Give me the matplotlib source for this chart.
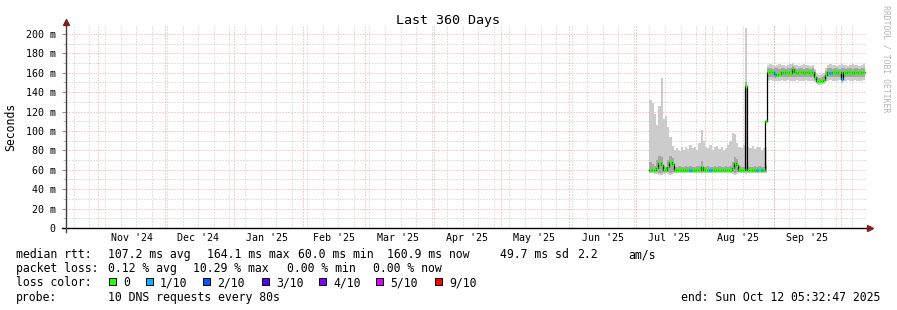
import numpy as np
import matplotlib
matplotlib.use('Agg')
import matplotlib.pyplot as plt
import matplotlib.dates as mdates
from matplotlib.patches import Rectangle

plt.rcParams['font.family'] = ['DejaVu Sans Mono']

# ---- data ----
start = np.datetime64('2024-10-17T05:32:47')
end = np.datetime64('2025-10-12T05:32:47')
days = np.arange('2025-07-07', '2025-10-12', dtype='datetime64[D]')

# median rtt per day, ms
median = [60, 60, 60, 62, 67, 65, 60, 60, 63, 68,
          66, 60, 60, 60, 60, 60, 60, 60, 60, 60,
          60, 60, 60, 63, 60, 60, 60, 60, 60, 60,
          60, 60, 60, 60, 60, 60, 60, 62, 67, 65,
          60, 60, 60, 146, 60, 60, 60, 60, 60, 60,
          60, 60, 110, 161, 161, 161, 159, 158, 159, 161,
          160, 161, 161, 160, 164, 161, 160, 161, 161, 160,
          161, 161, 160, 161, 156, 152, 151, 152, 153, 158,
          161, 160, 161, 161, 160, 161, 154, 161, 160, 161,
          161, 160, 161, 161, 160, 161, 161]
# smoke: slowest / fastest ping, ms
smoke_hi = [132, 129, 118, 106, 126, 155, 112, 115, 104, 94,
            85, 80, 82, 79, 84, 80, 83, 81, 86, 82,
            84, 80, 88, 101, 90, 84, 82, 86, 80, 83,
            85, 81, 84, 80, 82, 86, 90, 98, 97, 88,
            84, 82, 86, 206, 84, 82, 85, 81, 83, 84,
            80, 82, 84, 168, 169, 168, 167, 168, 169, 168,
            168, 167, 168, 169, 170, 168, 168, 167, 168, 169,
            168, 168, 167, 168, 164, 159, 158, 159, 160, 165,
            168, 169, 168, 168, 167, 168, 169, 168, 168, 167,
            168, 169, 168, 168, 167, 168, 169]
smoke_lo = [57, 57, 56, 56, 55, 55, 56, 57, 56, 55,
            56, 57, 57, 57, 57, 57, 57, 57, 57, 57,
            57, 57, 57, 56, 57, 57, 57, 57, 57, 57,
            57, 57, 57, 57, 57, 57, 57, 56, 55, 56,
            57, 57, 57, 56, 57, 57, 57, 57, 57, 57,
            57, 57, 57, 152, 153, 152, 151, 152, 152, 153,
            152, 152, 153, 152, 152, 152, 153, 152, 152, 152,
            153, 152, 152, 152, 150, 148, 147, 148, 148, 151,
            152, 153, 152, 152, 152, 153, 149, 152, 152, 153,
            152, 152, 153, 152, 152, 152, 153]
# inner (darker) smoke band, ms
inner_hi = [68, 66, 64, 70, 74, 73, 64, 63, 70, 74,
            72, 63, 63, 64, 63, 63, 64, 63, 64, 63,
            63, 64, 64, 69, 63, 63, 64, 63, 63, 64,
            63, 64, 63, 63, 64, 63, 64, 68, 73, 71,
            64, 63, 63, 150, 64, 63, 63, 64, 63, 64,
            63, 63, 64, 165, 165, 164, 165, 165, 164, 165,
            165, 164, 165, 165, 167, 165, 164, 165, 165, 164,
            165, 165, 164, 165, 161, 156, 155, 156, 157, 162,
            165, 165, 164, 165, 165, 164, 165, 165, 164, 165,
            165, 164, 165, 165, 164, 165, 165]
inner_lo = [58, 58, 58, 58, 57, 57, 58, 58, 58, 57,
            58, 58, 58, 58, 58, 58, 58, 58, 58, 58,
            58, 58, 58, 58, 58, 58, 58, 58, 58, 58,
            58, 58, 58, 58, 58, 58, 58, 58, 57, 58,
            58, 58, 58, 58, 58, 58, 58, 58, 58, 58,
            58, 58, 58, 156, 156, 156, 155, 156, 156, 156,
            156, 156, 156, 156, 156, 156, 156, 156, 156, 156,
            156, 156, 156, 156, 153, 150, 149, 150, 150, 154,
            156, 156, 156, 156, 156, 156, 152, 156, 156, 156,
            156, 156, 156, 156, 156, 156, 156]
# lost pings out of 10
loss = [0, 0, 0, 0, 0, 0, 0, 0, 0, 0,
        0, 0, 0, 0, 0, 0, 0, 0, 1, 0,
        0, 0, 0, 0, 0, 0, 0, 1, 0, 0,
        0, 0, 0, 0, 0, 0, 0, 0, 0, 0,
        0, 0, 0, 0, 0, 0, 0, 0, 1, 0,
        1, 0, 0, 0, 0, 0, 1, 0, 0, 0,
        0, 0, 0, 0, 0, 0, 0, 0, 0, 0,
        0, 0, 0, 0, 0, 0, 0, 0, 0, 0,
        0, 1, 0, 0, 0, 0, 1, 0, 0, 0,
        0, 0, 0, 0, 0, 0, 0]

loss_labels = ['0', '1/10', '2/10', '3/10', '4/10', '5/10', '9/10']
loss_colors = ['#26ff00', '#00b8ff', '#0059ff', '#5e00ff', '#7e00ff', '#dd00ff', '#ff0000']

month_labels = ["Nov '24", "Dec '24", "Jan '25", "Feb '25", "Mar '25", "Apr '25",
                "May '25", "Jun '25", "Jul '25", "Aug '25", "Sep '25"]
month_mids = np.array(['2024-11-16', '2024-12-16', '2025-01-16', '2025-02-15', '2025-03-16',
                       '2025-04-16', '2025-05-16', '2025-06-16', '2025-07-16', '2025-08-16',
                       '2025-09-16'], dtype='datetime64[D]')

stats_rtt = [(16, 'median rtt:'), (108, '107.2 ms avg'), (207, '164.1 ms max'),
             (298, '60.0 ms min'), (387, '160.9 ms now'), (500, '49.7 ms sd'),
             (577, '2.2'), (628, 'am/s')]
stats_loss = [(16, 'packet loss:'), (108, '0.12 % avg'), (193, '10.29 % max'),
              (287, '0.00 % min'), (373, '0.00 % now')]

# ---- figure ----
W, H = 897, 310
fig = plt.figure(figsize=(W / 100, H / 100), dpi=100)
fig.patch.set_facecolor('white')

def fx(x):
    return x / W

def fy(y):
    return 1 - y / H

ax = fig.add_axes([fx(65.5), fy(228), 800 / W, 202 / H])
ax.set_xlim(start, end)
ax.set_ylim(0, 208.2)

# grid
grid_red = '#eba0a0'
grid_gray = '#c4c4c4'
dots = (0, (1, 2))
for d in np.arange('2024-10-21', '2025-10-12', 7, dtype='datetime64[D]'):
    ax.axvline(d, color=grid_gray, lw=0.72, ls=dots, zorder=0)
for m in np.arange('2024-11', '2025-11', dtype='datetime64[M]'):
    ax.axvline(m.astype('datetime64[D]'), color=grid_red, lw=0.72, ls=dots, zorder=0)
ax.set_yticks(np.arange(0, 201, 20))
ax.set_yticks(np.arange(10, 201, 20), minor=True)
ax.grid(axis='y', which='major', color=grid_red, lw=0.72, ls=dots, zorder=0)
ax.grid(axis='y', which='minor', color=grid_gray, lw=0.72, ls=dots, zorder=0)
ax.set_axisbelow(True)

# smoke
hi = np.array(smoke_hi)
lo = np.array(smoke_lo)
ax.bar(days, hi - lo, bottom=lo, width=1, align='edge', color='#cccccc', lw=0, zorder=2)
ihi = np.array(inner_hi)
ilo = np.array(inner_lo)
ax.bar(days, ihi - ilo, bottom=ilo, width=1, align='edge', color='#a6a6a6', lw=0, zorder=3)

# median: black step line then loss coloured segments
edges = np.append(days, days[-1] + 1)
ax.step(edges, np.append(median, median[-1]), where='post', color='black', lw=0.9, zorder=4)
seg_colors = [loss_colors[l] for l in loss]
ax.hlines(median, days, days + 1, colors=seg_colors, lw=2.4, zorder=5)

# axes
for s in ax.spines.values():
    s.set_visible(False)
ax.plot([-0.005, 1.003], [0, 0], transform=ax.transAxes, color='black', lw=1, clip_on=False, zorder=6)
ax.plot([0, 0], [-0.02, 1.02], transform=ax.transAxes, color='#404040', lw=1, clip_on=False, zorder=6)
ax.plot([1.006], [0], transform=ax.transAxes, marker='>', ms=4, color='#7f1f1f', clip_on=False, zorder=7)
ax.plot([0], [1.02], transform=ax.transAxes, marker='^', ms=4, color='#7f1f1f', clip_on=False, zorder=7)

ax.set_xticks([])
ax.set_yticklabels(['0'] + [f'{v} m' for v in range(20, 201, 20)])
ax.tick_params(axis='y', which='major', length=3, width=0.6, color='#808080', pad=4, labelsize=7.2)
ax.tick_params(axis='y', which='minor', length=2, width=0.6, color='#b0b0b0')

for lab, mid in zip(month_labels, month_mids):
    ax.text(mid, -(241 - 228) / 202, lab, transform=ax.get_xaxis_transform(),
            ha='center', va='baseline', fontsize=7.2)

# titles
fig.text(fx(448), fy(24), 'Last 360 Days', ha='center', va='baseline', fontsize=9.6)
fig.text(fx(11), fy(127), 'Seconds', rotation=90, ha='center', va='center', fontsize=8.3)
fig.text(fx(886), fy(59), 'RRDTOOL / TOBI OETIKER', rotation=-90, ha='center', va='center',
         fontsize=5.9, color='#b4b4b4')

# legend / stats
for x, t in stats_rtt:
    fig.text(fx(x), fy(258), t, ha='left', va='baseline', fontsize=8.3)
for x, t in stats_loss:
    fig.text(fx(x), fy(272), t, ha='left', va='baseline', fontsize=8.3)
fig.text(fx(16), fy(286.5), 'loss color:', ha='left', va='baseline', fontsize=8.3)
box_x = [109, 146, 203, 262, 319, 376, 435]
for bx, c, lab in zip(box_x, loss_colors, loss_labels):
    fig.patches.append(Rectangle((fx(bx), fy(285)), 7 / W, 7 / H, transform=fig.transFigure,
                                 facecolor=c, edgecolor='black', lw=0.7))
    fig.text(fx(bx + 14), fy(286.5), lab, ha='left', va='baseline', fontsize=8.3)
fig.text(fx(16), fy(301), 'probe:', ha='left', va='baseline', fontsize=8.3)
fig.text(fx(108), fy(301), '10 DNS requests every 80s', ha='left', va='baseline', fontsize=8.3)
fig.text(fx(880), fy(301), 'end: Sun Oct 12 05:32:47 2025', ha='right', va='baseline', fontsize=8.3)

fig.savefig('out.png', dpi=100)
